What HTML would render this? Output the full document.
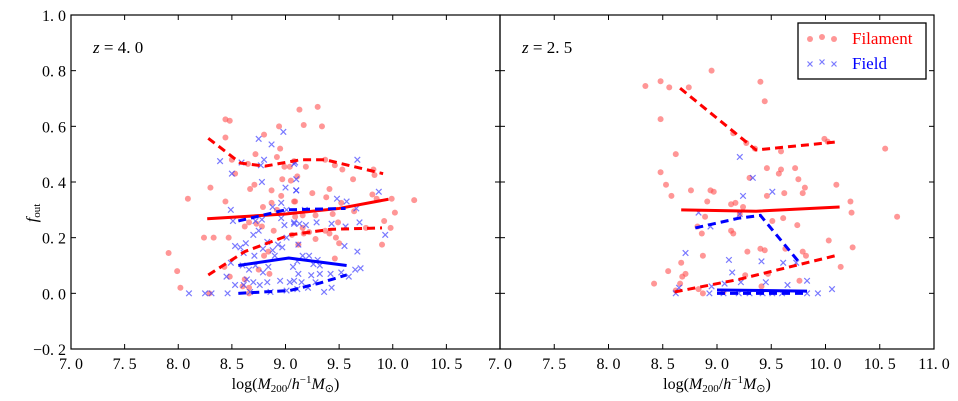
<!DOCTYPE html>
<html><head><meta charset="utf-8"><style>
html,body{margin:0;padding:0;background:#fff}
svg{display:block;font-family:"Liberation Serif",serif}
</style></head><body>
<svg id="chart" width="958" height="401" viewBox="0 0 958 401" xmlns="http://www.w3.org/2000/svg"></svg>
<script>
const xTicks=[7.0,7.5,8.0,8.5,9.0,9.5,10.0,10.5,11.0];
const yTicks=[-0.2,0.0,0.2,0.4,0.6,0.8,1.0];
// Left panel (z=4.0)
const leftFilX=[8.44,8.48,9.13,8.94,8.80,8.44,8.95,8.72,8.92,8.50,8.65,8.53,8.99,9.04,9.08,8.30,8.67,8.71,8.87,8.97,9.05,8.09,8.44,8.96,9.08,8.87,8.79,8.92,8.66,8.62,8.73,8.78,8.89,8.24,8.33,8.47,9.06,7.91,8.84,8.80,8.43,8.48,7.99,8.75,8.85,8.62,8.02,8.60,8.66,8.29,8.66,9.30,9.17,9.34,9.19,9.37,9.46,9.53,9.82,9.83,9.63,9.11,9.41,9.25,9.38,9.81,9.85,9.99,10.20,9.09,9.52,10.02,9.64,9.44,9.28,9.16,9.09,9.49,9.92,9.98,9.75,9.16,9.22,9.17,9.37,9.41,9.47,9.28,9.50,9.90,9.12,9.46];
const leftFilY=[0.625,0.62,0.66,0.60,0.57,0.56,0.52,0.50,0.49,0.48,0.465,0.43,0.455,0.455,0.475,0.38,0.375,0.39,0.37,0.41,0.405,0.34,0.33,0.35,0.33,0.325,0.31,0.30,0.255,0.24,0.25,0.24,0.225,0.20,0.20,0.20,0.21,0.145,0.15,0.135,0.095,0.06,0.08,0.085,0.07,0.05,0.02,0.025,0.02,0.0,0.0,0.67,0.605,0.60,0.455,0.48,0.46,0.445,0.445,0.425,0.41,0.42,0.375,0.36,0.345,0.355,0.34,0.34,0.335,0.33,0.325,0.29,0.295,0.285,0.28,0.28,0.275,0.255,0.26,0.235,0.235,0.235,0.22,0.215,0.225,0.215,0.20,0.195,0.18,0.175,0.175,0.125];
const leftFieldX=[8.98,8.75,8.87,8.39,8.59,8.80,8.77,9.09,8.50,8.78,9.00,9.10,8.49,8.51,8.88,8.96,9.01,8.72,8.78,8.96,8.99,9.08,8.75,8.70,8.83,9.01,8.93,8.63,8.53,8.58,8.61,8.71,8.79,8.88,8.90,8.97,8.49,8.60,8.66,8.72,8.84,8.79,8.45,8.64,8.70,8.83,8.95,9.04,8.53,8.61,8.76,8.10,8.25,8.31,8.46,8.67,8.86,9.01,9.67,9.08,9.10,9.10,9.87,9.48,9.57,9.18,9.66,9.08,9.13,9.19,9.29,9.43,9.56,9.69,9.93,9.12,9.55,9.67,9.16,9.22,9.30,9.11,9.26,9.32,9.07,9.65,9.70,9.52,9.12,9.24,9.32,9.42,9.59,9.08,9.15,9.28,9.21,9.43,9.36,9.11];
const leftFieldY=[0.58,0.555,0.535,0.475,0.47,0.48,0.46,0.47,0.43,0.40,0.38,0.37,0.30,0.26,0.31,0.325,0.30,0.26,0.265,0.27,0.245,0.25,0.225,0.21,0.185,0.20,0.175,0.18,0.17,0.165,0.145,0.135,0.16,0.155,0.135,0.165,0.11,0.10,0.085,0.10,0.095,0.075,0.06,0.05,0.04,0.04,0.045,0.04,0.03,0.03,0.03,0.0,0.0,0.0,0.0,0.005,0.005,0.01,0.48,0.465,0.41,0.37,0.365,0.34,0.33,0.30,0.305,0.255,0.25,0.245,0.255,0.25,0.24,0.255,0.21,0.175,0.17,0.15,0.135,0.135,0.12,0.115,0.105,0.10,0.095,0.085,0.09,0.075,0.07,0.065,0.07,0.07,0.06,0.045,0.04,0.04,0.02,0.02,0.005,0.015];
const leftFilMedX=[8.27,9.0,9.5,9.96];
const leftFilMedY=[0.268,0.285,0.305,0.338];
const leftFilHiX=[8.28,8.58,8.81,9.14,9.37,9.91];
const leftFilHiY=[0.557,0.468,0.457,0.48,0.48,0.43];
const leftFilLoX=[8.28,8.62,9.04,9.42,9.9];
const leftFilLoY=[0.066,0.15,0.21,0.23,0.235];
const leftFieldMedX=[8.56,9.03,9.57];
const leftFieldMedY=[0.10,0.127,0.10];
const leftFieldHiX=[8.56,9.0,9.56];
const leftFieldHiY=[0.26,0.30,0.305];
const leftFieldLoX=[8.56,9.04,9.32,9.57];
const leftFieldLoY=[0.0,0.01,0.037,0.066];
// Right panel (z=2.5)
const rightFilX=[8.34,8.48,8.56,8.74,8.95,9.40,9.44,8.48,8.62,9.15,9.27,9.35,9.59,9.99,10.02,10.55,8.48,8.53,8.58,8.76,8.94,8.97,8.91,9.13,9.17,9.24,9.30,9.46,9.57,9.59,9.72,9.75,9.81,9.79,9.62,9.46,10.10,10.23,10.24,10.66,8.89,8.82,8.86,9.13,9.15,9.21,9.51,9.61,9.74,10.03,10.25,10.14,8.87,8.67,8.71,8.55,8.68,8.42,8.66,8.62,8.83,8.87,9.28,9.40,9.44,9.63,9.79,9.82,9.26,9.47,9.76,9.41,9.06];
const rightFilY=[0.745,0.762,0.74,0.74,0.80,0.76,0.69,0.626,0.50,0.575,0.54,0.52,0.51,0.555,0.545,0.52,0.435,0.39,0.35,0.37,0.37,0.365,0.33,0.32,0.325,0.31,0.415,0.45,0.43,0.445,0.45,0.41,0.38,0.36,0.36,0.35,0.39,0.33,0.29,0.275,0.275,0.24,0.215,0.225,0.215,0.285,0.26,0.27,0.245,0.19,0.165,0.095,0.135,0.11,0.07,0.08,0.06,0.035,0.035,0.01,0.015,0.0,0.15,0.16,0.155,0.16,0.15,0.135,0.065,0.07,0.045,0.025,0.005];
const rightFieldX=[9.21,9.33,9.51,9.24,8.83,8.94,9.21,8.71,9.11,9.41,9.61,9.73,9.14,9.22,9.45,9.07,8.95,9.65,9.83,10.06,9.93,8.65,8.62,8.93,9.06,9.20,9.30,9.42,9.51,9.60,9.83];
const rightFieldY=[0.49,0.415,0.365,0.35,0.29,0.24,0.285,0.145,0.12,0.115,0.11,0.11,0.075,0.04,0.04,0.035,0.025,0.03,0.045,0.015,0.0,0.02,0.0,0.0,0.0,0.0,0.0,0.0,0.0,0.0,0.0];
const rightFilMedX=[8.67,9.36,10.13];
const rightFilMedY=[0.30,0.295,0.31];
const rightFilHiX=[8.66,9.36,10.13];
const rightFilHiY=[0.737,0.515,0.545];
const rightFilLoX=[8.61,9.2,10.11];
const rightFilLoY=[0.005,0.05,0.137];
const rightFieldHiX=[8.8,9.2,9.4,9.76];
const rightFieldHiY=[0.235,0.27,0.28,0.11];
const rightFieldMedX=[9.0,9.83];
const rightFieldMedY=[0.012,0.008];
const rightFieldLoX=[9.0,9.83];
const rightFieldLoY=[0.0,0.0];

const NS="http://www.w3.org/2000/svg";
const svg=document.getElementById('chart');
function mk(tag,attrs,parent){const e=document.createElementNS(NS,tag);for(const k in attrs)e.setAttribute(k,attrs[k]);(parent||svg).appendChild(e);return e;}
const Y0=15,Y1=349;
function yScale(v){return Y1-(v+0.2)/1.2*(Y1-Y0);}

function panel(name,x0,x1,showY,label){
  const g=mk('g',{});
  
  
  const xs=v=>x0+(v-7)/4*(x1-x0);
  mk('rect',{x:x0,y:Y0,width:x1-x0,height:Y1-Y0,fill:'none',stroke:'#000','stroke-width':1.2},g);
  xTicks.forEach(t=>{
    const x=xs(t);
    mk('line',{x1:x,x2:x,y1:Y1,y2:Y1-5,stroke:'#000'},g);
    mk('line',{x1:x,x2:x,y1:Y0,y2:Y0+5,stroke:'#000'},g);
    if(!(name==='left-panel'&&t===11.0)){
      const tx=mk('text',{x:x,y:369,'text-anchor':'middle','font-size':16},g);
      
      
      tx.textContent=t.toFixed(1).replace('.','. ');
    }
  });
  yTicks.forEach(t=>{
    const y=yScale(t);
    mk('line',{x1:x0,x2:x0+5,y1:y,y2:y,stroke:'#000'},g);
    mk('line',{x1:x1,x2:x1-5,y1:y,y2:y,stroke:'#000'},g);
    if(showY){
      const tx=mk('text',{x:x0-5,y:y+6,'text-anchor':'end','font-size':16},g);
      
      
      tx.textContent=(t<0?'\u2212':'')+Math.abs(t).toFixed(1).replace('.','. ');
    }
  });
  const zl=mk('text',{x:x0+22,y:53,'font-size':17},g);
  
  
  zl.innerHTML='<tspan font-style="italic">z</tspan> = '+label;
  const at=mk('text',{x:(x0+x1)/2,y:389,'text-anchor':'middle','font-size':16},g);
  
  
  at.innerHTML='log(<tspan font-style="italic">M</tspan><tspan font-size="11" dy="3">200</tspan><tspan dy="-3">/</tspan><tspan font-style="italic">h</tspan><tspan font-size="11" dy="-6">\u22121</tspan><tspan dy="6" font-style="italic">M</tspan><tspan font-size="11" dy="3">\u2299</tspan><tspan dy="-3">)</tspan>';
  return {g,xs};
}
function dots(p,X,Y,nm){
  X.forEach((v,i)=>{
    const c=mk('circle',{cx:p.xs(v),cy:yScale(Y[i]),r:3,fill:'#ff5050','fill-opacity':0.6},p.g);
    
    
  });
}
function crosses(p,X,Y,nm){
  X.forEach((v,i)=>{
    const x=p.xs(v),y=yScale(Y[i]);
    const e=mk('path',{d:`M${x-2.8},${y-2.8}L${x+2.8},${y+2.8}M${x-2.8},${y+2.8}L${x+2.8},${y-2.8}`,stroke:'#4040ff','stroke-opacity':0.7,'stroke-width':1.2,fill:'none'},p.g);
    
    
  });
}
function line(p,X,Y,color,dashed,nm){
  const d=X.map((v,i)=>(i?'L':'M')+p.xs(v)+','+yScale(Y[i])).join('');
  const a={d:d,stroke:color,'stroke-width':3,fill:'none'};
  if(dashed)a['stroke-dasharray']='8,5';
  const e=mk('path',a,p.g);
  
  
}
const L=panel('left-panel',71,500,true,'4. 0');
dots(L,leftFilX,leftFilY,'filament-point');
crosses(L,leftFieldX,leftFieldY,'field-point');
line(L,leftFilMedX,leftFilMedY,'#f00',false,'filament-median-line');
line(L,leftFilHiX,leftFilHiY,'#f00',true,'filament-upper-line');
line(L,leftFilLoX,leftFilLoY,'#f00',true,'filament-lower-line');
line(L,leftFieldMedX,leftFieldMedY,'#00f',false,'field-median-line');
line(L,leftFieldHiX,leftFieldHiY,'#00f',true,'field-upper-line');
line(L,leftFieldLoX,leftFieldLoY,'#00f',true,'field-lower-line');
const R=panel('right-panel',500,934,false,'2. 5');
dots(R,rightFilX,rightFilY,'filament-point');
crosses(R,rightFieldX,rightFieldY,'field-point');
line(R,rightFilMedX,rightFilMedY,'#f00',false,'filament-median-line');
line(R,rightFilHiX,rightFilHiY,'#f00',true,'filament-upper-line');
line(R,rightFilLoX,rightFilLoY,'#f00',true,'filament-lower-line');
line(R,rightFieldHiX,rightFieldHiY,'#00f',true,'field-upper-line');
line(R,rightFieldLoX,rightFieldLoY,'#00f',true,'field-lower-line');
line(R,rightFieldMedX,rightFieldMedY,'#00f',false,'field-median-line');

const yl=mk('text',{x:0,y:0,'font-size':16,transform:'translate(37,213) rotate(-90)','text-anchor':'middle'});


yl.innerHTML='<tspan font-style="italic">f</tspan><tspan font-size="11" dy="3">out</tspan>';

const lg=mk('g',{});


mk('rect',{x:798,y:23,width:128,height:56,fill:'#fff',stroke:'#000','stroke-width':1.3},lg);
[810,822,834].forEach((x,i)=>{
  mk('circle',{cx:x,cy:i==1?37:39,r:3,fill:'#ff5050','fill-opacity':0.6},lg);
  const y=i==1?62:64;
  mk('path',{d:`M${x-2.5},${y-2.5}L${x+2.5},${y+2.5}M${x-2.5},${y+2.5}L${x+2.5},${y-2.5}`,stroke:'#4040ff','stroke-opacity':0.7,'stroke-width':1.2},lg);
});
const t1=mk('text',{x:852,y:44,'font-size':17,fill:'#f00'},lg);


t1.textContent='Filament';
const t2=mk('text',{x:852,y:69,'font-size':17,fill:'#00f'},lg);


t2.textContent='Field';
</script>
</body></html>
